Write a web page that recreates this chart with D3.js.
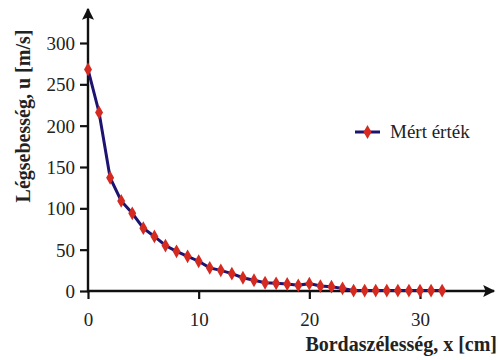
<!DOCTYPE html>
<html>
<head>
<meta charset="utf-8">
<script src="https://cdn.jsdelivr.net/npm/d3@7"></script>
</head>
<body style="margin:0;background:#fff">
<svg id="chart" width="498" height="360"></svg>
<script>
var xVals = [0,1,2,3,4,5,6,7,8,9,10,11,12,13,14,15,16,17,18,19,20,21,22,23,24,25,26,27,28,29,30,31,32];
var uVals = [268,216,137,109,94,76,66,55,48,42,36,28,25,21,16,13,10,9.3,8.5,6.9,8.9,6,5.2,3.2,0.5,0.5,0.5,0.5,0.5,0.5,0.5,0.5,0.5];
var xTicks = [0,10,20,30];
var yTicks = [0,50,100,150,200,250,300];
var seriesName = "Mért érték";
var xTitle = "Bordaszélesség, x [cm]";
var yTitle = "Légsebesség, u [m/s]";
var FONT = "Liberation Serif";

var svg = d3.select("#chart");
var x = d3.scaleLinear().domain([0, 30]).range([88, 420]);
var y = d3.scaleLinear().domain([0, 300]).range([291, 43]);

// arrow heads
var defs = svg.append("defs");
defs.append("marker").attr("id", "arr")
  .attr("viewBox", "0 0 10 10").attr("refX", 9).attr("refY", 5)
  .attr("markerWidth", 6).attr("markerHeight", 5).attr("orient", "auto")
  .attr("markerUnits", "strokeWidth")
  .append("path").attr("d", "M0,0 L10,5 L0,10 L2,5 Z").attr("fill", "#111");

// axes
var xAxis = svg.append("g").attr("transform", "translate(0,291)")
  .call(d3.axisBottom(x).tickValues(xTicks).tickSize(8).tickPadding(14));
var yAxis = svg.append("g").attr("transform", "translate(88,0)")
  .call(d3.axisLeft(y).tickValues(yTicks).tickSize(8).tickPadding(5));
[xAxis, yAxis].forEach(function(a) {
  a.attr("font-family", FONT).attr("font-size", 19);
  a.select(".domain").remove();
  a.selectAll(".tick line").attr("stroke", "#111").attr("stroke-width", 2.2);
  a.selectAll(".tick text").attr("font-family", FONT).attr("font-size", 19).attr("fill", "#222");
});
yAxis.selectAll(".tick text").attr("dy", "0.35em");

svg.append("line").attr("x1", 87).attr("y1", 291).attr("x2", 494).attr("y2", 291)
  .attr("stroke", "#111").attr("stroke-width", 2.4).attr("marker-end", "url(#arr)");
svg.append("line").attr("x1", 88).attr("y1", 292).attr("x2", 88).attr("y2", 9)
  .attr("stroke", "#111").attr("stroke-width", 2.4).attr("marker-end", "url(#arr)");

// series
var pts = xVals.map(function(d, i) { return [d, uVals[i]]; });
var line = d3.line().x(function(d) { return x(d[0]); }).y(function(d) { return y(d[1]); });
svg.append("path").datum(pts).attr("d", line)
  .attr("fill", "none").attr("stroke", "#1c1470").attr("stroke-width", 3);

var diamond = d3.symbol().type(d3.symbolDiamond).size(55);
svg.selectAll(".pt").data(pts).enter().append("path")
  .attr("class", "pt")
  .attr("transform", function(d) { return "translate(" + x(d[0]) + "," + y(d[1]) + ")"; })
  .attr("d", diamond).attr("fill", "#d42a20");

// legend
var lg = svg.append("g").attr("transform", "translate(355,132)");
lg.append("line").attr("x1", 0).attr("x2", 25).attr("stroke", "#1c1470").attr("stroke-width", 3);
lg.append("path").attr("transform", "translate(12.5,0)").attr("d", diamond).attr("fill", "#d42a20");
lg.append("text").attr("x", 35).attr("y", 6).attr("fill", "#222")
  .attr("font-family", FONT).attr("font-size", 19).text(seriesName);

// titles
svg.append("text").attr("x", 497).attr("y", 351).attr("text-anchor", "end").attr("fill", "#222")
  .attr("font-family", FONT).attr("font-size", 20).attr("font-weight", "bold").text(xTitle);
svg.append("text").attr("transform", "translate(30,116) rotate(-90)").attr("text-anchor", "middle").attr("fill", "#222")
  .attr("font-family", FONT).attr("font-size", 20).attr("font-weight", "bold").text(yTitle);
</script>
</body>
</html>
